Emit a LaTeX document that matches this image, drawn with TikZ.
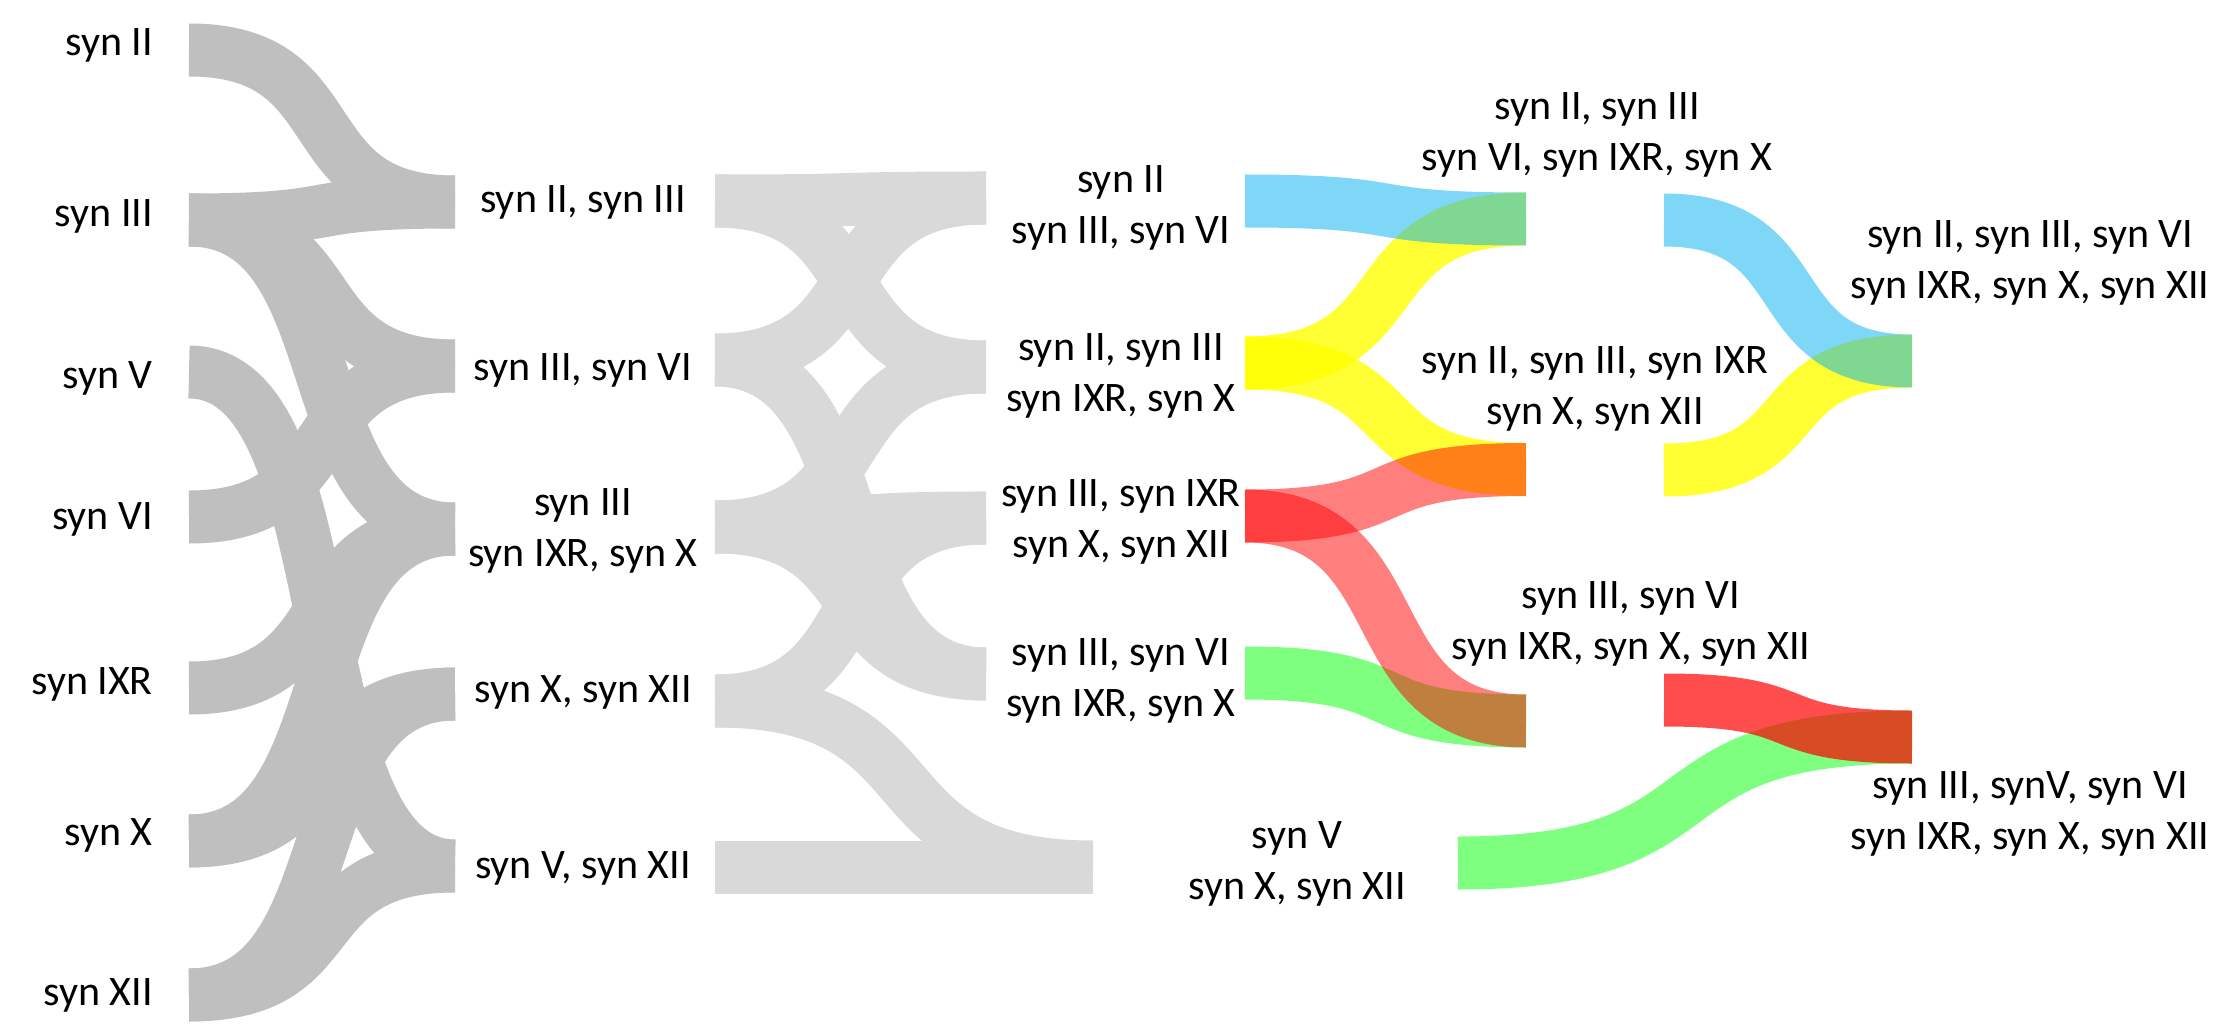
\documentclass[tikz,border=0pt]{standalone}
\usepackage{fontspec}
\setmainfont{Carlito}
\usetikzlibrary{calc}
\definecolor{darkband}{HTML}{BFBFBF}
\definecolor{lightband}{HTML}{D9D9D9}
\definecolor{bandblue}{HTML}{00B0F0}
\definecolor{bandyellow}{HTML}{FFFF00}
\definecolor{bandred}{HTML}{FF0000}
\definecolor{bandgreen}{HTML}{00FF00}
\begin{document}
\begin{tikzpicture}[x=1pt,y=-1pt,
  % a thick S-shaped band, horizontal at both ends, steep in the middle
  flow/.style={line width=53pt, line cap=butt,
    to path={let \p1=(\tikztostart), \p2=(\tikztotarget) in
      .. controls ({\x1+0.62*(\x2-\x1)},\y1) and ({\x2-0.62*(\x2-\x1)},\y2) .. (\tikztotarget)}},
  dark/.style={flow, draw=darkband},
  light/.style={flow, draw=lightband},
  yel/.style={flow, draw=bandyellow, draw opacity=0.8},
  blu/.style={flow, draw=bandblue, draw opacity=0.5},
  grn/.style={flow, draw=bandgreen, draw opacity=0.5},
  rd/.style={flow, draw=bandred, draw opacity=0.5},
  rdstrong/.style={flow, draw=bandred, draw opacity=0.7},
  lbl/.style={font=\fontsize{42}{50.5}\selectfont, inner sep=0pt, align=center, anchor=north},
  gene/.style={font=\fontsize{42}{50.5}\selectfont, inner sep=0pt, anchor=north east},
]
\fill[white] (0,0) rectangle (2227,1024);
\useasboundingbox (0,0) rectangle (2227,1024);

% ---- end points of the bands ----
\coordinate (s2)  at (189,50);
\coordinate (s3)  at (189,220);
\coordinate (s5)  at (189,372);
\coordinate (s6)  at (189,517);
\coordinate (s9)  at (189,688);
\coordinate (s10) at (189,841);
\coordinate (s12) at (189,995);

\coordinate (A) at (455,202);
\coordinate (B) at (455,366);
\coordinate (C) at (455,529);
\coordinate (D) at (455,694);
\coordinate (E) at (455,866);

\coordinate (A2) at (715,201);
\coordinate (B2) at (715,360);
\coordinate (C2) at (715,527);
\coordinate (D2) at (715,701);
\coordinate (E2) at (715,867);

\coordinate (P1) at (986,198);
\coordinate (P2) at (986,367);
\coordinate (P3) at (986,518);
\coordinate (P4) at (986,674);
\coordinate (P5) at (1093,867);

\coordinate (P1c) at (1245,201);
\coordinate (P2c) at (1245,363);
\coordinate (P3c) at (1245,516);
\coordinate (P4c) at (1245,673);

\coordinate (Q1) at (1526,219);
\coordinate (Q2) at (1526,469.5);
\coordinate (Q3) at (1526,721);

\coordinate (Q1o) at (1664,220);
\coordinate (Q2o) at (1664,470);
\coordinate (Q3o) at (1664,700);
\coordinate (Y)   at (1458,863);

\coordinate (Q4) at (1912,361);
\coordinate (Q5) at (1912,737);

% ---- first merge: single synapsins to pairs ----
\draw[dark] (s2) to (A);
\draw[dark] (s3) to (A);
\draw[dark] (s3) to (B);
\draw[dark] (s3) to (C);
\draw[dark] (s5) to (E);
\draw[dark] (s6) to (B);
\draw[dark] (s9) to (C);
\draw[dark] (s10) to (C);
\draw[dark] (s10) to (D);
\draw[dark] (s12) to (D);
\draw[dark] (s12) to (E);

% ---- second merge ----
\draw[light] (A2) to (P1);
\draw[light] (A2) to (P2);
\draw[light] (B2) to (P1);
\draw[light] (B2) to (P4);
\draw[light] (C2) to (P2);
\draw[light] (C2) to (P3);
\draw[light] (C2) to (P4);
\draw[light] (D2) to (P3);
\draw[light] (D2) to (P5);
\draw[light] (E2) to (P5);

% ---- third merge ----
\draw[yel] (P2c) to (Q1);
\draw[yel] (P2c) to (Q2);
\draw[blu] (P1c) to (Q1);
\draw[grn] (P4c) to (Q3);
\draw[rd] (P3c) to (Q2);
\draw[rd] (P3c) to (Q3);

% ---- fourth merge ----
\draw[yel] (Q2o) to (Q4);
\draw[blu] (Q1o) to (Q4);
\draw[grn] (Y) to (Q5);
\draw[rdstrong] (Q3o) to (Q5);

% ---- labels ----
\node[gene] (g2)  at (153,28.5)  {syn II};
\node[gene] (g3)  at (153,199.5) {syn III};
\node[gene] (g5)  at (153,361.5) {syn V};
\node[gene] (g6)  at (153,502.5) {syn VI};
\node[gene] (g9)  at (153,667.5) {syn IXR};
\node[gene] (g10) at (153,818.5) {syn X};
\node[gene] (g12) at (153,978.5) {syn XII};

\node[lbl] (lA) at (583,185.5) {syn II, syn III};
\node[lbl] (lB) at (583,353.5) {syn III, syn VI};
\node[lbl] (lC) at (583,488.5) {syn III\\syn IXR, syn X};
\node[lbl] (lD) at (583,675.5) {syn X, syn XII};
\node[lbl] (lE) at (583,851.5) {syn V, syn XII};

\node[lbl] (lP1) at (1121,165.5) {syn II\\syn III, syn VI};
\node[lbl] (lP2) at (1121,333.5) {syn II, syn III\\syn IXR, syn X};
\node[lbl] (lP3) at (1121,479.5) {syn III, syn IXR\\syn X, syn XII};
\node[lbl] (lP4) at (1121,638.5) {syn III, syn VI\\syn IXR, syn X};
\node[lbl] (lP5) at (1297,821.5) {syn V\\syn X, syn XII};

\node[lbl] (lQ1) at (1597,92.5)  {syn II, syn III\\syn VI, syn IXR, syn X};
\node[lbl] (lQ2) at (1595,346.5) {syn II, syn III, syn IXR\\syn X, syn XII};
\node[lbl] (lQ3) at (1631,581.5) {syn III, syn VI\\syn IXR, syn X, syn XII};
\node[lbl] (lQ4) at (2030,220.5) {syn II, syn III, syn VI\\syn IXR, syn X, syn XII};
\node[lbl] (lQ5) at (2030,771.5) {syn III, synV, syn VI\\syn IXR, syn X, syn XII};
\end{tikzpicture}
\end{document}
